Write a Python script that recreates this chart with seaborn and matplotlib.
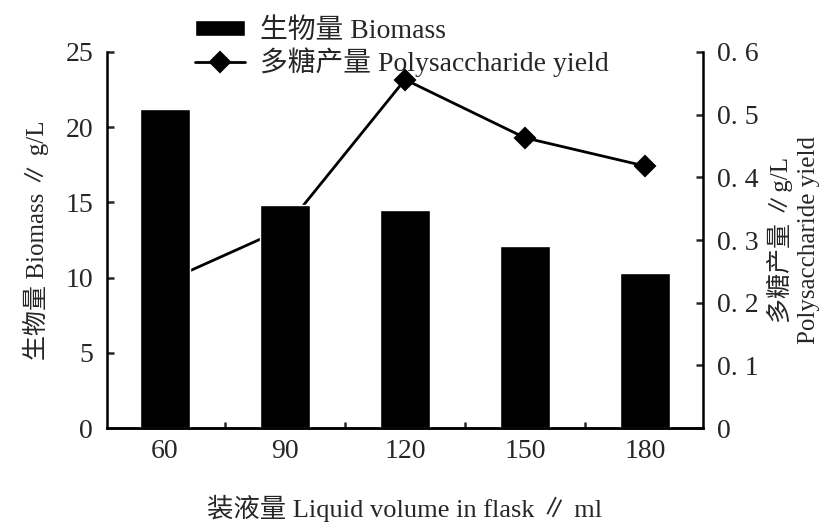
import numpy as np
import pandas as pd
import matplotlib
matplotlib.use('Agg')
import matplotlib.pyplot as plt
import seaborn as sns
from matplotlib.ticker import FixedLocator

# data
volumes = ['60', '90', '120', '150', '180']
biomass = [21.2, 14.8, 14.5, 12.1, 10.3]
polysac = [0.233, 0.319, 0.556, 0.463, 0.418]
left_ticks = [0, 5, 10, 15, 20, 25]
right_ticks = [0, 0.1, 0.2, 0.3, 0.4, 0.5, 0.6]
right_ticklabels = ['0', '0. 1', '0. 2', '0. 3', '0. 4', '0. 5', '0. 6']

sns.set_style('ticks')
plt.rcParams['font.family'] = ['Liberation Serif', 'Noto Sans CJK SC', 'DejaVu Sans']
plt.rcParams['axes.unicode_minus'] = False

df = pd.DataFrame({'vol': volumes, 'biomass': biomass, 'poly': polysac})

fig = plt.figure(figsize=(8.39, 5.23), dpi=100)
ax = fig.add_axes([0.1275, 0.1816, 0.7105, 0.719])
ax2 = ax.twinx()

sns.barplot(data=df, x='vol', y='biomass', color='black', width=0.41,
            saturation=1, ax=ax, label='生物量 Biomass')
sns.pointplot(data=df, x='vol', y='poly', color='black', markers='D',
              markersize=10, linewidth=2, ax=ax2, label='多糖产量 Polysaccharide yield')

# bars drawn over the line
ax.set_zorder(ax2.get_zorder() + 1)
ax.patch.set_visible(False)

for a in (ax, ax2):
    a.set_xlim(-0.483, 4.483)
    a.spines['top'].set_visible(False)
    for s in ('left', 'right', 'bottom'):
        a.spines[s].set_linewidth(1.8)
        a.spines[s].set_color('black')

ax.set_ylim(0, 25)
ax2.set_ylim(0, 0.6)
ax.set_yticks(left_ticks)
ax.set_yticklabels([str(t) for t in left_ticks])
ax2.set_yticks(right_ticks)
ax2.set_yticklabels(right_ticklabels)

ax.spines['right'].set_visible(False)
ax2.spines['left'].set_visible(False)

ax.tick_params(axis='y', direction='in', length=5, width=1.8, labelsize=20, pad=10)
ax2.tick_params(axis='y', direction='in', length=5, width=1.8, labelsize=20, pad=10)
ax.tick_params(axis='x', which='major', length=0, labelsize=20, pad=8)
ax.xaxis.set_minor_locator(FixedLocator([0.5, 1.5, 2.5, 3.5]))
ax.tick_params(axis='x', which='minor', direction='in', length=4, width=1.8, bottom=True)
ax2.tick_params(axis='x', length=0)

ax.set_xlabel('装液量 Liquid volume in flask ∥ ml', fontsize=19, labelpad=22)
ax.set_ylabel('生物量 Biomass ∥ g/L', fontsize=18, labelpad=12)
ax2.set_ylabel('多糖产量 ∥g/L\nPolysaccharide yield', fontsize=18, labelpad=6,
               linespacing=1.3)

if ax.get_legend() is not None:
    ax.get_legend().remove()
if ax2.get_legend() is not None:
    ax2.get_legend().remove()
h1, l1 = ax.get_legend_handles_labels()
h2, l2 = ax2.get_legend_handles_labels()
fig.legend(h1[:1] + h2[:1], l1[:1] + l2[:1], loc='upper left',
           bbox_to_anchor=(0.2125, 0.997), frameon=False, fontsize=20,
           handlelength=1.8, handleheight=0.55, labelspacing=0.12,
           handletextpad=0.55, borderaxespad=0.2)

fig.savefig('out.png', dpi=100)
